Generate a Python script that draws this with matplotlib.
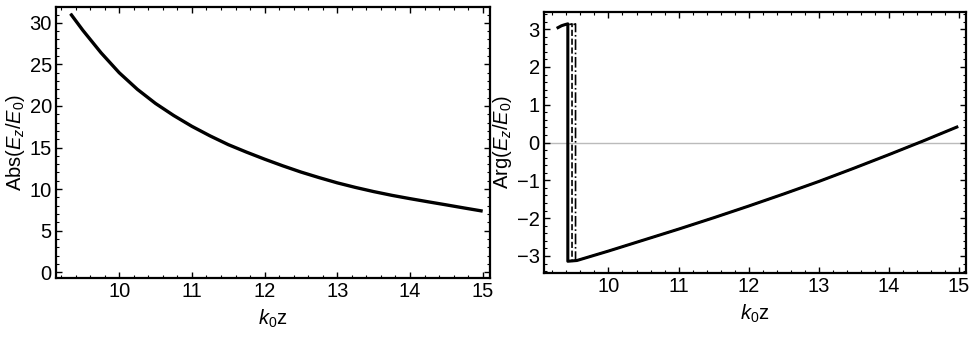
import matplotlib
matplotlib.use("Agg")
import matplotlib.pyplot as plt
from matplotlib.ticker import MultipleLocator

plt.rcParams['font.family'] = ['Liberation Sans', 'DejaVu Sans']
plt.rcParams['mathtext.fontset'] = 'custom'
plt.rcParams['mathtext.rm'] = 'Liberation Sans'
plt.rcParams['mathtext.it'] = 'Liberation Sans:italic'
plt.rcParams['mathtext.bf'] = 'Liberation Sans:bold'

# ---- data ----
abs_x = [9.33, 9.5, 9.75, 10.0, 10.25, 10.5, 10.75, 11.0, 11.25, 11.5, 11.75, 12.0,
         12.25, 12.5, 12.75, 13.0, 13.25, 13.5, 13.75, 14.0, 14.25, 14.5, 14.75, 15.0]
abs_y = [31.1, 29.1, 26.4, 24.0, 22.0, 20.3, 18.85, 17.55, 16.4, 15.35, 14.45, 13.6,
         12.8, 12.05, 11.38, 10.75, 10.2, 9.7, 9.25, 8.85, 8.47, 8.1, 7.72, 7.35]

arg_post_x = [9.55, 10.0, 10.5, 11.0, 11.5, 12.0, 12.5, 13.0, 13.5, 14.0, 14.5, 14.97]
arg_post_y = [-3.12, -2.87, -2.58, -2.29, -1.99, -1.68, -1.36, -1.03, -0.68, -0.32, 0.05, 0.41]

solid_pre_x = [9.28, 9.33, 9.38, 9.42, 9.42]
solid_pre_y = [3.04, 3.09, 3.12, 3.14, -3.14]
dashed_pre_x = [9.44, 9.48, 9.48]
dashed_pre_y = [3.12, 3.14, -3.14]
dotted_pre_x = [9.50, 9.53, 9.53]
dotted_pre_y = [3.12, 3.14, -3.14]

abs_xticks = [10, 11, 12, 13, 14, 15]
abs_yticks = [0, 5, 10, 15, 20, 25, 30]
arg_xticks = [10, 11, 12, 13, 14, 15]
arg_yticks = [-3, -2, -1, 0, 1, 2, 3]

fig = plt.figure(figsize=(9.77, 3.37), dpi=100)
ax1 = fig.add_axes([0.0573, 0.175, 0.4442, 0.804])
ax2 = fig.add_axes([0.5568, 0.190, 0.4319, 0.774])

fs = 14.5

def style(ax):
    for s in ax.spines.values():
        s.set_linewidth(1.6)
    ax.tick_params(which='both', direction='in', top=True, right=True, labelsize=fs, pad=3)
    ax.tick_params(which='major', length=4, width=1.0)
    ax.tick_params(which='minor', length=2, width=0.8)

# Left panel
ax1.plot(abs_x, abs_y, color='black', lw=2.4, solid_capstyle='butt')
ax1.plot(abs_x, abs_y, color='black', lw=1.2, ls=':')
ax1.set_xlim(9.13, 15.1)
ax1.set_ylim(-0.7, 31.9)
ax1.set_xticks(abs_xticks)
ax1.set_yticks(abs_yticks)
ax1.xaxis.set_minor_locator(MultipleLocator(0.2))
ax1.yaxis.set_minor_locator(MultipleLocator(1))
style(ax1)
ax1.set_xlabel(r'$\mathit{k}_{\mathrm{0}}\mathrm{z}$', fontsize=fs, labelpad=5)
ax1.set_ylabel(r'Abs($\mathit{E}_{\mathit{z}}/\mathit{E}_{\mathrm{0}}$)', fontsize=fs, labelpad=2)

# Right panel
ax2.axhline(0, color='#bbbbbb', lw=1.0, zorder=1)
ax2.plot(solid_pre_x + arg_post_x, solid_pre_y + arg_post_y, color='black', lw=2.2)
ax2.plot(dashed_pre_x + arg_post_x, dashed_pre_y + arg_post_y, color='black', lw=1.2, ls='--')
ax2.plot(dotted_pre_x + arg_post_x, dotted_pre_y + arg_post_y, color='black', lw=1.2, ls='-.')
ax2.set_xlim(9.08, 15.1)
ax2.set_ylim(-3.45, 3.45)
ax2.set_xticks(arg_xticks)
ax2.set_yticks(arg_yticks)
ax2.set_yticklabels([('\u2212%d' % -t) if t < 0 else '%d' % t for t in arg_yticks])
ax2.xaxis.set_minor_locator(MultipleLocator(0.2))
ax2.yaxis.set_minor_locator(MultipleLocator(0.2))
style(ax2)
ax2.set_xlabel(r'$\mathit{k}_{\mathrm{0}}\mathrm{z}$', fontsize=fs, labelpad=5)
ax2.set_ylabel(r'Arg($\mathit{E}_{\mathit{z}}/\mathit{E}_{\mathrm{0}}$)', fontsize=fs, labelpad=2)

fig.savefig('out.png', dpi=100)
